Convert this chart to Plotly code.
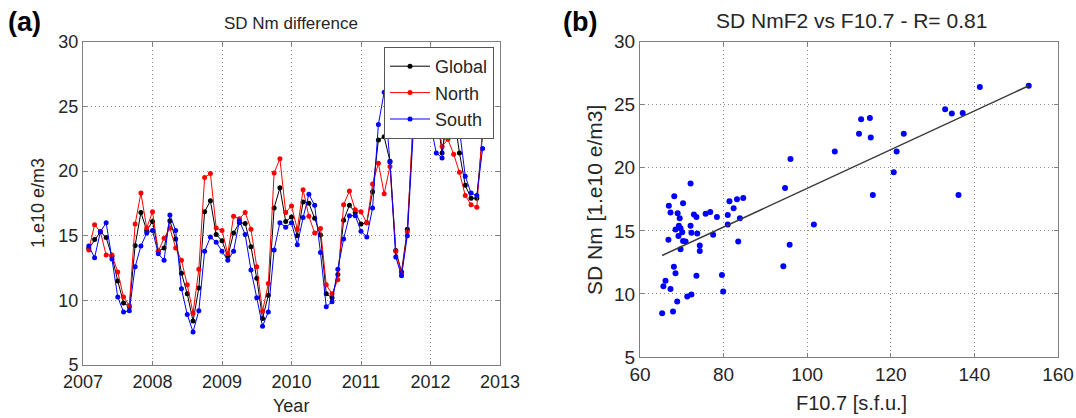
import numpy as np
import plotly.graph_objects as go

# ---- Panel (a): monthly SD Nm difference (Feb 2007 .. Oct 2012) ----
month_index = list(range(1, 70))  # months after Jan 2007
global_sd = [14.0, 14.7, 15.3, 14.85, 13.4, 11.5, 9.8, 9.5, 14.25, 16.8,
             15.4, 16.1, 13.8, 14.05, 16.15, 14.75, 12.1, 10.5, 8.4, 10.95,
             16.85, 17.7, 15.1, 14.6, 13.4, 15.2, 16.0, 15.95, 14.15, 11.7,
             8.6, 10.4, 17.15, 18.7, 16.1, 16.45, 15.0, 17.6, 17.5, 16.35,
             15.05, 10.5, 10.2, 12.0, 16.2, 17.35, 16.8, 15.9, 16.0, 18.4,
             22.4, 22.65, 20.75, 13.85, 12.2, 15.5, 23.5, 24.8, 27.0, 25.5,
             24.7, 21.4, 24.5, 24.5, 21.4, 18.9, 17.9, 17.9, 22.9]
north_sd = [13.9, 15.85, 15.3, 13.5, 13.5, 12.2, 10.25, 9.6, 15.9, 18.3,
            15.6, 16.85, 13.8, 14.8, 15.6, 14.05, 13.1, 11.2, 9.0, 12.4,
            19.5, 19.8, 15.6, 15.4, 13.6, 16.5, 16.3, 16.8, 15.5, 12.6,
            9.15, 11.3, 19.85, 20.95, 16.8, 17.3, 15.5, 18.55, 16.5, 15.2,
            15.55, 11.2, 10.5, 11.6, 17.4, 18.45, 17.0, 16.85, 16.0, 19.0,
            20.6, 18.25, 20.35, 13.8, 12.0, 15.3, 24.0, 25.5, 28.0, 26.0,
            24.5, 21.9, 22.45, 21.3, 19.9, 18.1, 17.4, 17.2, 23.4]
south_sd = [14.2, 13.3, 15.3, 16.0, 13.2, 10.25, 9.1, 9.2, 12.6, 14.2,
            15.2, 15.4, 13.6, 13.1, 16.6, 15.4, 10.9, 8.9, 7.56, 9.2,
            13.8, 14.9, 14.5, 13.8, 13.1, 13.8, 16.15, 15.1, 12.35, 10.2,
            8.0, 9.1, 13.9, 16.0, 15.65, 16.0, 14.3, 16.4, 18.2, 17.35,
            13.7, 9.5, 9.9, 12.4, 14.75, 16.55, 16.55, 15.35, 14.9, 17.15,
            23.6, 26.1, 20.7, 13.35, 11.9, 15.0, 22.8, 23.6, 26.0, 23.6,
            21.4, 21.0, 26.0, 25.5, 23.2, 19.6, 18.3, 18.1, 21.75]
years = [2007 + m / 12 for m in month_index]

# ---- Panel (b): SD NmF2 vs F10.7 ----
f107 = [65.3, 65.6, 66.1, 67.3, 66.8, 66.9, 67.3, 67.9, 68.1, 68.5,
        68.2, 68.5, 68.9, 69.0, 69.2, 69.3, 69.5, 69.7, 69.7, 70.1,
        70.3, 70.3, 70.9, 71.3, 72.1, 72.1, 72.3, 72.3, 72.9, 73.5,
        73.7, 73.5, 74.3, 74.3, 75.7, 76.8, 77.5, 78.4, 79.6, 79.9,
        81.0, 81.0, 81.4, 82.4, 83.2, 83.5, 83.9, 84.7, 94.3, 94.7,
        95.8, 96.0, 101.6, 106.6, 112.4, 112.9, 115.0, 115.2, 115.7, 120.7,
        121.4, 123.1, 133.0, 134.6, 136.2, 137.2, 141.3, 153.0]
sd_nm = [8.47, 10.6, 11.05, 10.4, 14.3, 17.0, 16.45, 8.6, 12.15, 11.65,
         17.75, 15.1, 9.4, 16.4, 14.6, 15.4, 16.0, 15.2, 13.55, 14.9,
         17.2, 14.2, 14.15, 9.8, 18.75, 15.4, 14.85, 9.95, 16.3, 16.1,
         14.8, 11.45, 13.85, 13.4, 16.35, 16.5, 14.7, 16.1, 11.5, 10.2,
         16.25, 15.5, 17.35, 16.8, 17.5, 14.15, 16.0, 17.6, 12.2, 18.4,
         13.9, 20.7, 15.5, 21.3, 22.7, 23.85, 23.95, 22.4, 17.85, 19.65,
         21.3, 22.7, 24.65, 24.3, 17.85, 24.35, 26.4, 26.5]

slope, intercept = np.polyfit(f107, sd_nm, 1)
fit_x = [min(f107), max(f107)]
fit_y = [slope * v + intercept for v in fit_x]

W, H = 1076, 418
def px(x):
    return x / W
def py(y):
    return 1 - y / H

FONT = "Liberation Sans, Arial, sans-serif"
TXT = "#262626"

fig = go.Figure()
series = [("Global", global_sd, "#000000"), ("North", north_sd, "#ff0000"),
          ("South", south_sd, "#0000ff")]
for name, vals, col in series:
    fig.add_trace(go.Scatter(x=years, y=vals, name=name, mode="lines+markers",
                             line=dict(color=col, width=1),
                             marker=dict(color=col, size=5),
                             xaxis="x", yaxis="y"))

fig.add_trace(go.Scatter(x=f107, y=sd_nm, mode="markers", showlegend=False,
                         marker=dict(color="#0000ff", size=6),
                         xaxis="x2", yaxis="y2"))
fig.add_trace(go.Scatter(x=fit_x, y=fit_y, mode="lines", showlegend=False,
                         line=dict(color="#3a3a3a", width=1.5),
                         xaxis="x2", yaxis="y2"))

def axis_common(size):
    return dict(showline=True, linecolor="#7f7f7f", linewidth=1, mirror="ticks",
                ticks="inside", ticklen=4, tickcolor="#7f7f7f", automargin=False,
                showgrid=True, gridcolor="#8a8a8a", griddash="1px,3px", gridwidth=1,
                zeroline=False, tickfont=dict(family=FONT, size=size, color=TXT))

fig.update_layout(
    width=W, height=H, margin=dict(l=0, r=0, t=0, b=0, autoexpand=False),
    paper_bgcolor="white", plot_bgcolor="white",
    xaxis=dict(domain=[px(83), px(500)], range=[2007, 2013], dtick=1,
               anchor="y", tickformat="d", **axis_common(18)),
    yaxis=dict(domain=[py(365), py(41.7)], range=[5, 30], dtick=5,
               anchor="x", **axis_common(18)),
    xaxis2=dict(domain=[px(640), px(1058)], range=[60, 160], dtick=20,
                anchor="y2", **axis_common(19)),
    yaxis2=dict(domain=[py(357), py(41.7)], range=[5, 30], dtick=5,
                anchor="x2", **axis_common(19)),
    legend=dict(x=px(494), y=py(47), xanchor="right", yanchor="top",
                bgcolor="white", bordercolor="#555555", borderwidth=1,
                font=dict(family=FONT, size=18, color=TXT),
                tracegroupgap=0, itemwidth=40),
    showlegend=True,
)

ann = [
    dict(text="<b>(a)</b>", x=px(24), y=py(22), font=dict(size=27, family=FONT, color="black")),
    dict(text="<b>(b)</b>", x=px(580), y=py(22), font=dict(size=27, family=FONT, color="black")),
    dict(text="SD Nm difference", x=px(291), y=py(23), font=dict(size=17, family=FONT, color=TXT)),
    dict(text="SD NmF2 vs F10.7 - R= 0.81", x=px(851), y=py(21), font=dict(size=21, family=FONT, color=TXT)),
    dict(text="1.e10 e/m3", x=px(38), y=py(203), textangle=-90, font=dict(size=18, family=FONT, color=TXT)),
    dict(text="SD Nm [1.e10 e/m3]", x=px(594), y=py(200), textangle=-90, font=dict(size=21, family=FONT, color=TXT)),
    dict(text="Year", x=px(291), y=py(406), font=dict(size=18, family=FONT, color=TXT)),
    dict(text="F10.7 [s.f.u.]", x=px(851), y=py(403), font=dict(size=20, family=FONT, color=TXT)),
]
for a in ann:
    a.update(xref="paper", yref="paper", showarrow=False, xanchor="center", yanchor="middle")
fig.update_layout(annotations=ann)

fig.write_html(
    "out.html",
    config={"displayModeBar": False},
    post_script="document.body.style.margin='0';document.body.style.padding='0';"
                "document.documentElement.style.overflow='hidden';",
)
